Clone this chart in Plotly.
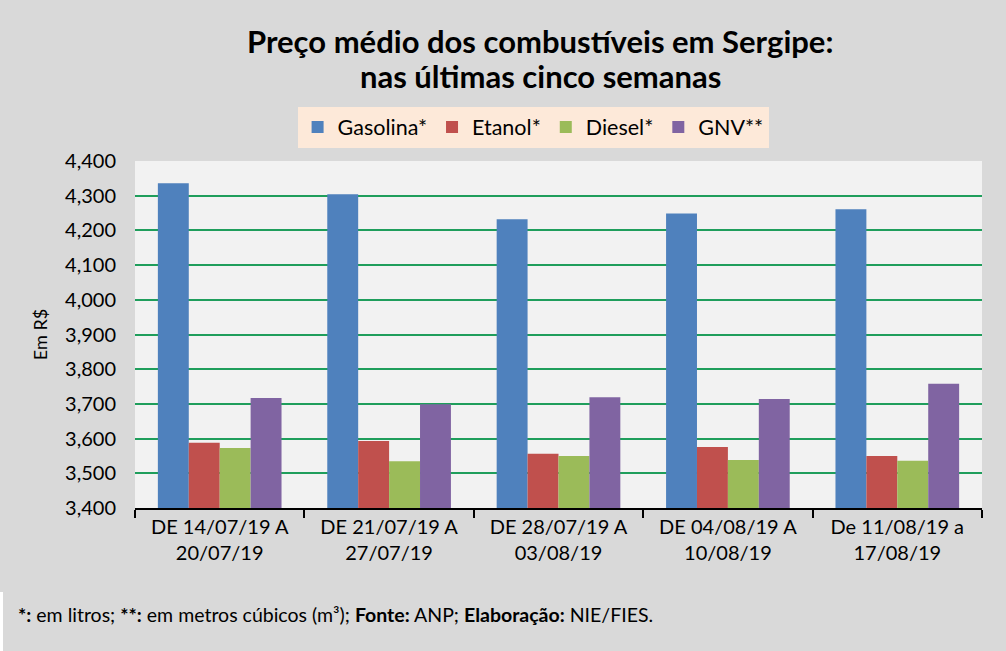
import plotly.graph_objects as go

# semanas (categorias do eixo x)
semanas = [
    "DE 14/07/19 A<br>20/07/19",
    "DE 21/07/19 A<br>27/07/19",
    "DE 28/07/19 A<br>03/08/19",
    "DE 04/08/19 A<br>10/08/19",
    "De 11/08/19 a<br>17/08/19",
]

# preços médios (R$)
gasolina = [4.336, 4.304, 4.232, 4.249, 4.261]
etanol = [3.588, 3.593, 3.556, 3.576, 3.550]
diesel = [3.573, 3.535, 3.550, 3.538, 3.536]
gnv = [3.717, 3.699, 3.719, 3.714, 3.758]

series = [
    ("Gasolina*", gasolina, "#4f81bd"),
    ("Etanol*", etanol, "#c0504d"),
    ("Diesel*", diesel, "#9bbb59"),
    ("GNV**", gnv, "#8064a2"),
]

titulo = ["Preço médio dos combustíveis em Sergipe:", "nas últimas cinco semanas"]

fonte = "Lato, 'Open Sans', sans-serif"

fig = go.Figure()
for nome, valores, cor in series:
    fig.add_trace(go.Bar(x=semanas, y=valores, name=nome, marker_color=cor,
                         marker_line_width=0))

fig.update_layout(
    width=1006, height=651,
    margin=dict(l=135, r=24, t=161, b=143),
    paper_bgcolor="#d9d9d9",
    plot_bgcolor="#f2f2f2",
    font=dict(family=fonte, color="#000000", size=19),
    separators=",.",
    barmode="group",
    bargap=0.27,
    bargroupgap=0,
    legend=dict(
        orientation="h", x=0.47, xanchor="center", y=1.157, yanchor="top",
        bgcolor="#fde9d9", font=dict(size=21.5),
        itemwidth=30, traceorder="normal",
    ),
    showlegend=True,
)

# título em duas linhas (espaçamento igual ao original)
for linha, ypix in zip(titulo, [41, 76]):
    fig.add_annotation(
        xref="paper", yref="paper",
        x=(540 - 135) / 847, y=1 + (161 - ypix) / 347,
        xanchor="center", yanchor="middle", showarrow=False,
        text="<b>" + linha + "</b>", font=dict(size=31, family=fonte),
    )

fig.update_xaxes(
    showline=True, linecolor="#000000", linewidth=2,
    ticks="outside", tickson="boundaries", ticklen=8, tickwidth=2,
    tickcolor="#000000", tickfont=dict(size=20), showgrid=False,
)
fig.update_yaxes(
    range=[3.4, 4.4], dtick=0.1, tickformat=".3f",
    showgrid=True, gridcolor="#1f9e5c", gridwidth=2,
    zeroline=False, showline=False, ticks="",
    tickfont=dict(size=20), ticklabelstandoff=18,
    title=dict(text="Em R$", font=dict(size=18), standoff=12),
)

fig.add_annotation(
    xref="paper", yref="paper",
    x=(16 - 135) / 847, y=-(614 - 508) / 347,
    xanchor="left", yanchor="middle", showarrow=False,
    text="<b>*:</b> em litros; <b>**:</b> em metros cúbicos (m³); <b>Fonte:</b> ANP; <b>Elaboração:</b> NIE/FIES.",
    font=dict(size=19.5, family=fonte),
)

# faixa branca à esquerda do rodapé
fig.add_shape(
    type="rect", xref="paper", yref="paper",
    x0=-135 / 847, x1=-132 / 847, y0=-(592 - 508) / 347, y1=-(651 - 508) / 347,
    fillcolor="#ffffff", line_width=0, layer="above",
)

fig.write_html("out.html", config={"displayModeBar": False},
               post_script="document.body.style.margin='0';")
